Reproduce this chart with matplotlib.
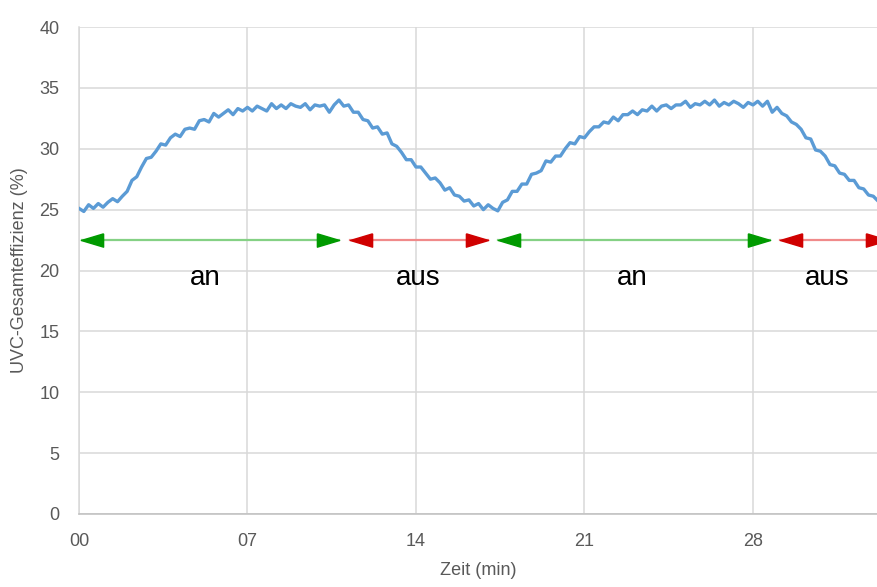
import matplotlib.pyplot as plt
import numpy as np

t_step = 0.2
effizienz = [
    25.1, 24.85, 25.4, 25.1, 25.5, 25.2, 25.6, 25.9, 25.65, 26.1,
    26.5, 27.4, 27.7, 28.5, 29.2, 29.3, 29.8, 30.4, 30.3, 30.9,
    31.2, 31.0, 31.6, 31.7, 31.6, 32.3, 32.4, 32.2, 32.9, 32.6,
    32.9, 33.2, 32.8, 33.3, 33.1, 33.4, 33.1, 33.5, 33.3, 33.1,
    33.7, 33.3, 33.6, 33.3, 33.7, 33.5, 33.4, 33.7, 33.2, 33.6,
    33.5, 33.6, 33.0, 33.6, 34.0, 33.5, 33.6, 33.0, 33.0, 32.4,
    32.3, 31.7, 31.8, 31.2, 31.3, 30.4, 30.2, 29.7, 29.1, 29.1,
    28.5, 28.5, 28.0, 27.5, 27.6, 27.2, 26.6, 26.8, 26.2, 26.1,
    25.7, 25.8, 25.3, 25.5, 25.0, 25.4, 25.1, 24.9, 25.6, 25.8,
    26.5, 26.5, 27.1, 27.1, 27.9, 28.0, 28.2, 29.0, 28.9, 29.4,
    29.4, 30.0, 30.5, 30.4, 31.0, 30.9, 31.4, 31.8, 31.8, 32.2,
    32.1, 32.6, 32.3, 32.8, 32.8, 33.1, 32.8, 33.2, 33.1, 33.5,
    33.1, 33.5, 33.6, 33.3, 33.6, 33.6, 33.9, 33.4, 33.7, 33.6,
    33.9, 33.6, 34.0, 33.5, 33.8, 33.6, 33.9, 33.7, 33.4, 33.8,
    33.6, 33.9, 33.5, 33.9, 33.0, 33.4, 32.9, 32.7, 32.2, 32.0,
    31.6, 30.9, 30.8, 29.9, 29.8, 29.4, 28.7, 28.6, 28.0, 27.9,
    27.4, 27.4, 26.8, 26.7, 26.2, 26.1, 25.7,
]
zeit = np.arange(len(effizienz)) * t_step

# Phasen (an / aus) mit Pfeilen
phasen = ['an', 'aus', 'an', 'aus']
phase_start = [0.11, 11.26, 17.42, 29.12]
phase_ende = [10.8, 16.98, 28.7, 33.6]
text_x = [5.23, 14.1, 22.97, 31.1]
pfeil_y = 22.5
text_y = 19.4

xticks = [0, 7, 14, 21, 28]
xticklabels = ['00', '07', '14', '21', '28']
yticks = list(range(0, 41, 5))

farbe_linie = {'an': '#85d185', 'aus': '#f08a8a'}
farbe_kopf = {'an': '#009a00', 'aus': '#d00000'}

grau = '#595959'
tick_font = ['Liberation Sans', 'DejaVu Sans']

fig = plt.figure(figsize=(8.78, 5.87), dpi=100)
ax = fig.add_axes([79 / 878, 1 - 514 / 587, 1 - 79 / 878, (514 - 27) / 587])

ax.plot(zeit, effizienz, color='#5b9bd5', linewidth=2.4, zorder=3)

# Pfeile: Linie + Dreiecke an den Enden
kopf_rechts = [(-1, 0.6), (1, 0), (-1, -0.6), (-1, 0.6)]
kopf_links = [(1, 0.6), (-1, 0), (1, -0.6), (1, 0.6)]
halb = 0.45  # halbe Kopflänge in min
for name, s, e in zip(phasen, phase_start, phase_ende):
    ax.plot([s, e], [pfeil_y, pfeil_y], color=farbe_linie[name], linewidth=1.6, zorder=2)
    ax.plot([s + halb], [pfeil_y], marker=kopf_links, markersize=16,
            color=farbe_kopf[name], linestyle='none', zorder=4)
    ax.plot([e - halb], [pfeil_y], marker=kopf_rechts, markersize=16,
            color=farbe_kopf[name], linestyle='none', zorder=4)

for name, x in zip(phasen, text_x):
    ax.text(x, text_y, name, ha='center', va='center', fontsize=20,
            family=['Liberation Sans', 'DejaVu Sans'], color='black')

ax.set_xlim(0, 799 / 24.07)
ax.set_ylim(0, 40)
ax.set_xticks(xticks)
ax.set_xticklabels(xticklabels)
ax.set_yticks(yticks)

ax.grid(True, color='#d9d9d9', linewidth=1.1)
ax.set_axisbelow(True)
for sp in ['top', 'right']:
    ax.spines[sp].set_visible(False)
ax.spines['left'].set_color('#d9d9d9')
ax.spines['left'].set_linewidth(1.1)
ax.spines['bottom'].set_color('#bfbfbf')
ax.spines['bottom'].set_linewidth(1.1)
ax.tick_params(length=0, colors=grau, labelsize=13)
ax.tick_params(axis='x', pad=14)
ax.tick_params(axis='y', pad=14)
for lab in ax.get_xticklabels() + ax.get_yticklabels():
    lab.set_family(tick_font)

ax.set_xlabel('Zeit (min)', fontsize=13, color=grau, family=tick_font, labelpad=8)
ax.set_ylabel('UVC-Gesamteffizienz (%)', fontsize=13, color=grau, family=tick_font, labelpad=8)

plt.savefig('out.png', dpi=100)
plt.close()
